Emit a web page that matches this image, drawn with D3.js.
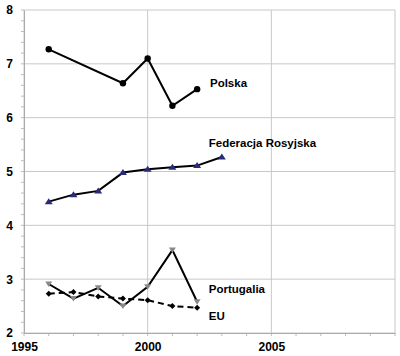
<!DOCTYPE html>
<html><head><meta charset="utf-8">
<script src="https://cdn.jsdelivr.net/npm/d3@7"></script>
<style>body{margin:0;background:#fff}svg{display:block}text{font-family:"Liberation Sans",Arial,sans-serif;font-weight:bold}</style>
</head><body>
<svg id="c" width="400" height="356"></svg>
<script>
const years = [1996,1997,1998,1999,2000,2001,2002,2003];
const polskaYears = [1996,1999,2000,2001,2002];
const polska = [7.27,6.64,7.10,6.22,6.53];
const rosja = [4.44,4.57,4.64,4.98,5.04,5.08,5.11,5.27];
const portugalia = [2.91,2.64,2.84,2.50,2.86,3.54,2.58];
const eu = [2.73,2.76,2.68,2.64,2.61,2.50,2.47];
const xTicks = [1995,2000,2005,2010];
const yTicks = [2,3,4,5,6,7,8];
const labels = ["Polska","Federacja Rosyjska","Portugalia","EU"];

const svg = d3.select("#c");
const L=24,R=395,T=10,B=333;
const x = d3.scaleLinear().domain([1995,2010]).range([L,R]);
const y = d3.scaleLinear().domain([2,8]).range([B,T]);

// grid
svg.append("g").selectAll("line").data(yTicks).join("line")
  .attr("x1",L).attr("x2",R).attr("y1",d=>y(d)).attr("y2",d=>y(d))
  .attr("stroke","#c8c8c8").attr("stroke-width",1);
svg.append("g").selectAll("line").data(xTicks).join("line")
  .attr("y1",T).attr("y2",B).attr("x1",d=>x(d)).attr("x2",d=>x(d))
  .attr("stroke","#c8c8c8").attr("stroke-width",1);

// minor ticks
const yMinor = d3.range(2,8.001,0.2);
svg.append("g").selectAll("line").data(yMinor).join("line")
  .attr("x1",L-3).attr("x2",L).attr("y1",d=>y(d)).attr("y2",d=>y(d))
  .attr("stroke","#bbb");
const xMinor = d3.range(1995,2010.001,1);
svg.append("g").selectAll("line").data(xMinor).join("line")
  .attr("y1",B).attr("y2",B+3).attr("x1",d=>x(d)).attr("x2",d=>x(d))
  .attr("stroke","#bbb");

// axes
const ya = svg.append("g").attr("transform",`translate(${L},0)`)
  .call(d3.axisLeft(y).tickValues(yTicks).tickFormat(d3.format("d")).tickSize(0).tickPadding(11));
const xa = svg.append("g").attr("transform",`translate(0,${B})`)
  .call(d3.axisBottom(x).tickValues(xTicks.slice(0,3)).tickFormat(d3.format("d")).tickSize(0).tickPadding(9));
[ya,xa].forEach(a=>{a.select(".domain").attr("stroke","#aaa");a.selectAll("text").attr("font-size",12).attr("fill","#000")
  .style("font-family","'Liberation Sans',Arial,sans-serif").style("font-weight","bold");});

const line = d3.line().x(d=>x(d[0])).y(d=>y(d[1]));
const series = [
  {yrs:polskaYears, v:polska, color:"#000", dash:null, marker:"circle", mcol:"#000"},
  {yrs:years, v:rosja, color:"#000", dash:null, marker:"triangle", mcol:"#2a2a7a"},
  {yrs:years.slice(0,7), v:portugalia, color:"#000", dash:null, marker:"tri-down", mcol:"#888"},
  {yrs:years.slice(0,7), v:eu, color:"#000", dash:"6,4", marker:"diamond", mcol:"#000"}
];
series.forEach(s=>{
  const pts = s.yrs.map((yr,i)=>[yr,s.v[i]]);
  svg.append("path").attr("d",line(pts)).attr("fill","none").attr("stroke",s.color)
    .attr("stroke-width",2).attr("stroke-dasharray",s.dash);
  const g = svg.append("g");
  pts.forEach(p=>{
    const cx=x(p[0]), cy=y(p[1]);
    if(s.marker==="circle") g.append("circle").attr("cx",cx).attr("cy",cy).attr("r",3.2).attr("fill",s.mcol);
    else if(s.marker==="triangle") g.append("path").attr("d",`M${cx},${cy-3.5}L${cx+4},${cy+2.5}L${cx-4},${cy+2.5}Z`).attr("fill",s.mcol);
    else if(s.marker==="tri-down") g.append("path").attr("d",`M${cx-3.5},${cy-2.5}L${cx+3.5},${cy-2.5}L${cx},${cy+3}Z`).attr("fill",s.mcol);
    else g.append("path").attr("d",`M${cx},${cy-3}L${cx+3},${cy}L${cx},${cy+3}L${cx-3},${cy}Z`).attr("fill",s.mcol);
  });
});

// labels
const labelPos = [[2002.52,6.57],[2002.47,5.45],[2002.47,2.74],[2002.47,2.24]];
svg.append("g").selectAll("text").data(labels).join("text")
  .attr("x",(d,i)=>x(labelPos[i][0])).attr("y",(d,i)=>y(labelPos[i][1]))
  .attr("font-size",11.5).attr("fill","#000").text(d=>d);
</script>
</body></html>
